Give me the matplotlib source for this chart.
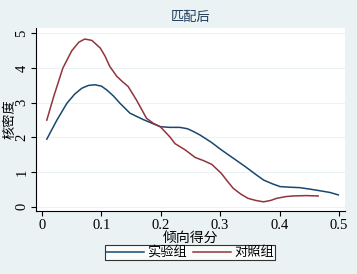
import matplotlib.pyplot as plt

plt.rcParams['font.family'] = ['Liberation Serif', 'Noto Sans CJK SC']

# 倾向得分核密度（匹配后）
treat_x = [0.008, 0.025, 0.042, 0.055, 0.067, 0.078, 0.089, 0.100, 0.109, 0.120, 0.131,
           0.148, 0.171, 0.199, 0.215, 0.232, 0.245, 0.255, 0.266, 0.285, 0.302, 0.322,
           0.342, 0.360, 0.373, 0.388, 0.401, 0.420, 0.434, 0.450, 0.468, 0.485, 0.499]
treat_y = [1.95, 2.50, 2.99, 3.25, 3.42, 3.50, 3.52, 3.48, 3.37, 3.20, 2.99,
           2.70, 2.51, 2.31, 2.29, 2.29, 2.25, 2.17, 2.07, 1.86, 1.64, 1.40,
           1.16, 0.93, 0.77, 0.66, 0.58, 0.56, 0.55, 0.51, 0.46, 0.41, 0.34]

ctrl_x = [0.008, 0.020, 0.035, 0.050, 0.062, 0.072, 0.084, 0.098, 0.106, 0.114, 0.126, 0.136,
          0.145, 0.159, 0.176, 0.188, 0.199, 0.204, 0.215, 0.224, 0.241, 0.258, 0.272, 0.286,
          0.302, 0.312, 0.322, 0.335, 0.347, 0.360, 0.373, 0.385, 0.395, 0.410, 0.423, 0.445,
          0.465]
ctrl_y = [2.50, 3.20, 4.00, 4.50, 4.75, 4.84, 4.80, 4.58, 4.35, 4.05, 3.76, 3.60,
          3.47, 3.08, 2.55, 2.40, 2.31, 2.22, 2.02, 1.82, 1.64, 1.42, 1.33, 1.22,
          0.96, 0.74, 0.53, 0.36, 0.24, 0.18, 0.14, 0.18, 0.24, 0.29, 0.31, 0.32,
          0.31]

bg = '#eaf2f3'
fig = plt.figure(figsize=(3.57, 2.74), dpi=100, facecolor=bg)
ax = fig.add_axes([0.101, 0.230, 0.865, 0.668])
ax.set_facecolor('white')

ax.plot(treat_x, treat_y, color='#1a476f', lw=1.1, label='实验组')
ax.plot(ctrl_x, ctrl_y, color='#90353b', lw=1.1, label='对照组')

ax.set_xlim(-0.0101, 0.510)
ax.set_ylim(-0.124, 5.16)
ax.set_xticks([0, 0.1, 0.2, 0.3, 0.4, 0.5])
ax.set_xticklabels(['0', '0.1', '0.2', '0.3', '0.4', '0.5'])
ax.set_yticks([0, 1, 2, 3, 4, 5])
ax.grid(axis='y', color=bg, lw=0.8)
ax.set_axisbelow(True)
for s in ['top', 'right']:
    ax.spines[s].set_visible(False)
for s in ['left', 'bottom']:
    ax.spines[s].set_linewidth(0.8)
ax.tick_params(direction='out', length=3.5, width=0.8, labelsize=10.5, pad=2)
plt.setp(ax.get_yticklabels(), rotation=90, va='center')

ax.set_title('匹配后', fontsize=9.5, color='#1e3c5a', pad=5,
             family=['Noto Sans CJK SC'])
ax.set_xlabel('倾向得分', fontsize=10, labelpad=0, family=['Noto Sans CJK SC'])
ax.set_ylabel('核密度', fontsize=9.5, family=['Noto Sans CJK SC'], va='center')
ax.yaxis.set_label_coords(-0.085, 0.5)

leg = fig.legend(loc='center', bbox_to_anchor=(0.532, 0.078), ncol=2,
                 frameon=True, fancybox=False, edgecolor='black',
                 prop={'family': 'Noto Sans CJK SC', 'size': 9.5},
                 handlelength=2.9, handletextpad=0.2, columnspacing=0.5,
                 borderpad=0.1, borderaxespad=0)
leg.get_frame().set_linewidth(0.8)

fig.savefig('out.png', dpi=100, facecolor=bg)
